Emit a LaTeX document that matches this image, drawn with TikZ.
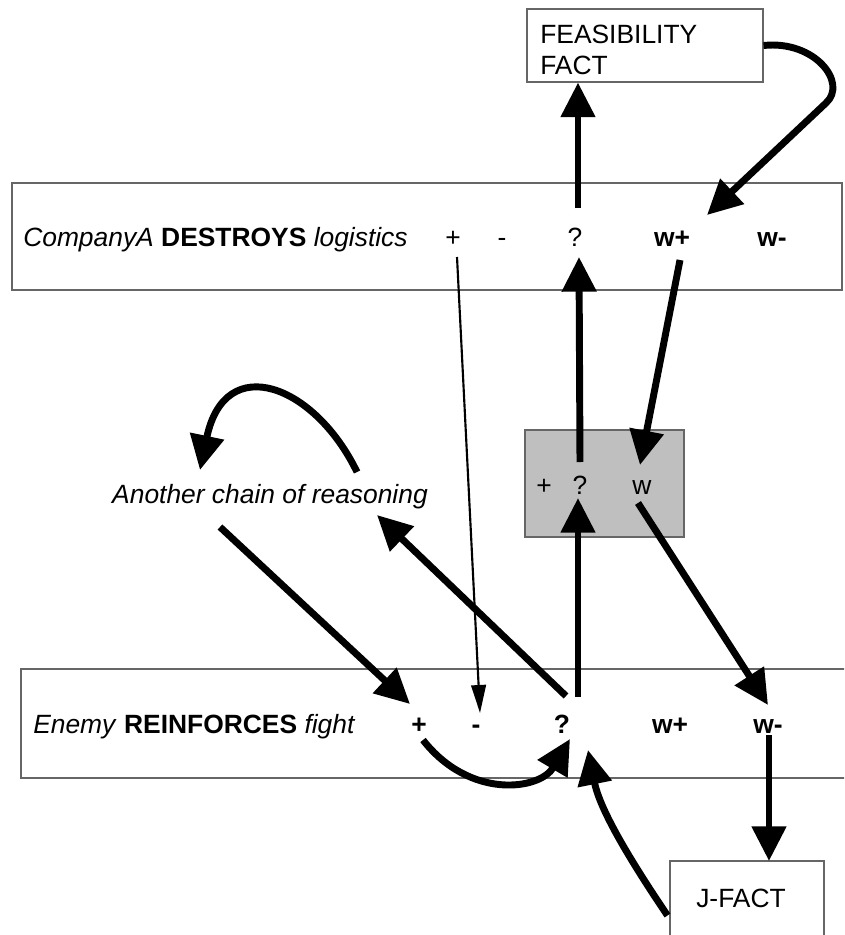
\documentclass[tikz,border=0pt]{standalone}
\usepackage{fontspec}
\setmainfont{Liberation Sans}
\usetikzlibrary{arrows.meta,calc,fit}

\begin{document}
\begin{tikzpicture}[x=0.75pt,y=-0.75pt,
  txt/.style={font=\fontsize{19.8}{23}\selectfont, inner sep=0pt, text height=14.2pt, text depth=0pt},
  btxt/.style={txt, font=\fontsize{19.8}{23}\selectfont\bfseries},
  blocktxt/.style={font=\fontsize{19.8}{23}\selectfont, inner sep=0pt, align=left},
  panel/.style={draw=black!60, line width=0.8pt, inner sep=0pt},
  greypanel/.style={panel, fill=black!25},
  fat/.style={line width=5.2pt, -{Triangle[length=26pt,width=25pt]}},
  slim/.style={line width=1.6pt, -{Triangle[length=21pt,width=11pt]}},
]
\useasboundingbox (0,0) rectangle (844,935);
\clip (0,0) rectangle (844,935);

% frames
\node[panel, fit={(527,9) (763,82)}] (feas) {};
\node[panel, fit={(12,183) (842,290)}] (topbar) {};
\node[greypanel, fit={(525,430) (684,537)}] (grey) {};
\node[panel, fit={(21,669) (860,778)}] (botbar) {};
\node[panel, fit={(670,861) (824,950)}] (jfact) {};

% texts in the frames
\node[blocktxt, anchor=west] (feastxt) at (540,50) {FEASIBILITY\\FACT};
\node[txt] (jtxt) at (741,898) {J-FACT};

% upper statement
\node[txt, anchor=west] (tA) at (23,237) {\textit{CompanyA} \textbf{DESTROYS} \textit{logistics}};
\node[txt] (tp) at (453,237) {+};
\node[txt] (tm) at (502,237) {-};
\node[txt] (tq) at (575,237) {?};
\node[btxt] (twp) at (672,237) {w+};
\node[btxt] (twm) at (772,237) {w-};

% grey combination box
\node[txt] (gp) at (544,485) {+};
\node[txt] (gq) at (580,485) {?};
\node[txt] (gw) at (642,485) {w};

% side chain
\node[txt] (chain) at (270,494) {\textit{Another chain of reasoning}};

% lower statement
\node[txt, anchor=west] (bA) at (33,724) {\textit{Enemy} \textbf{REINFORCES} \textit{fight}};
\node[btxt] (bp) at (419,724) {+};
\node[btxt] (bm) at (476,724) {-};
\node[btxt] (bq) at (562,724) {?};
\node[btxt] (bwp) at (670,724) {w+};
\node[btxt] (bwm) at (768,724) {w-};

% connectors
\draw[fat] ($(tq)+(3,-29)$) -- ($(feas.south)+(-67,0)$);
\draw[fat] (feas.east) .. controls (815,40) and (848,83) .. (826,103) -- ($(twp)+(35,-22)$);
\draw[fat] ($(gq)+(0,-23)$) -- ($(tq)+(4,20)$);
\draw[fat] ($(twp)+(8,23)$) -- ($(gw)+(-2,-20)$);
\draw[fat] ($(gw)+(-4,18)$) -- ($(bwm)+(0,-19)$);
\draw[fat] ($(bq)+(16,-27)$) -- ($(gq)+(-2,13)$);
\draw[fat] ($(bwm)+(1,11)$) -- ($(bwm)+(1,137)$);
\draw[fat] ($(jfact.west)+(-2,10)$) .. controls (630,860) and (600,810) .. ($(bq)+(26,26)$);
\draw[fat] ($(bp)+(4,16)$) .. controls (470,800) and (540,790) .. ($(bq)+(8,15)$);
\draw[fat] ($(bq)+(4,-28)$) -- ($(chain)+(107,21)$);
\draw[fat] ($(chain)+(-50,33)$) -- ($(bp)+(-9,-20)$);
\draw[fat] ($(chain)+(87,-22)$) .. controls (315,385) and (225,350) .. ($(chain)+(-70,-24)$);
\draw[slim] ($(tp)+(4,20)$) -- ($(bm)+(4,-11)$);
\end{tikzpicture}
\end{document}
